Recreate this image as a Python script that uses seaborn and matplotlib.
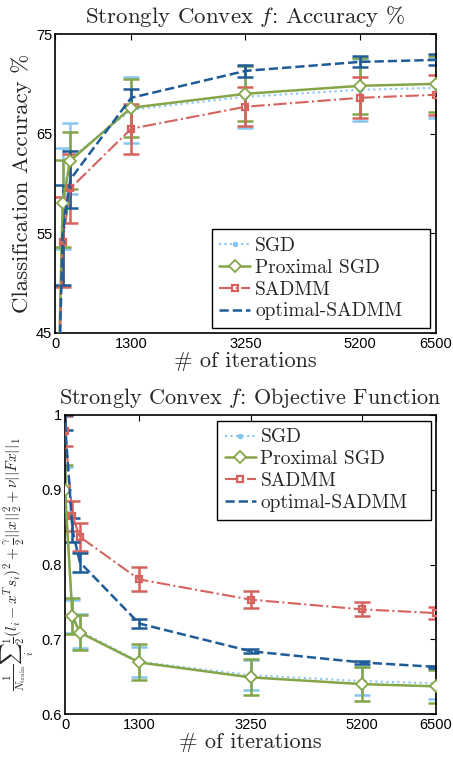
import numpy as np
import pandas as pd
import matplotlib
matplotlib.use("Agg")
import matplotlib.pyplot as plt
import seaborn as sns


# iterations where the models were evaluated
iters = [0, 130, 260, 1300, 3250, 5200, 6500]
x_ticks = [0, 1300, 3250, 5200, 6500]

# classification accuracy (%) with error bar half-widths
sgd_acc = [25.0, 58.5, 62.5, 67.4, 68.7, 69.4, 69.6]
sgd_acc_err = [3.0, 5.1, 3.6, 3.3, 3.1, 3.1, 3.0]
prox_acc = [25.0, 58.0, 62.3, 67.6, 69.0, 69.8, 70.0]
prox_acc_err = [3.0, 4.4, 2.9, 2.9, 2.75, 2.8, 2.8]
sadmm_acc = [25.0, 54.1, 59.5, 65.5, 67.7, 68.6, 68.9]
sadmm_acc_err = [3.0, 4.5, 3.5, 2.5, 1.95, 2.05, 2.0]
opt_acc = [25.0, 54.8, 60.4, 68.6, 71.3, 72.2, 72.4]
opt_acc_err = [3.0, 5.0, 2.9, 0.9, 0.6, 0.55, 0.55]

# objective function value with error bar half-widths
sgd_obj = [0.900, 0.731, 0.711, 0.670, 0.652, 0.644, 0.641]
sgd_obj_err = [0.030, 0.022, 0.023, 0.020, 0.020, 0.019, 0.021]
prox_obj = [0.900, 0.731, 0.709, 0.669, 0.649, 0.640, 0.637]
prox_obj_err = [0.033, 0.024, 0.024, 0.024, 0.024, 0.023, 0.022]
sadmm_obj = [0.979, 0.865, 0.837, 0.780, 0.753, 0.740, 0.735]
sadmm_obj_err = [0.020, 0.020, 0.019, 0.016, 0.011, 0.0095, 0.0075]
opt_obj = [0.990, 0.846, 0.803, 0.721, 0.684, 0.669, 0.663]
opt_obj_err = [0.010, 0.016, 0.013, 0.006, 0.0025, 0.0015, 0.0015]

labels = ["SGD", "Proximal SGD", "SADMM", "optimal-SADMM"]
colors = ["#86C6F2", "#84A548", "#D6625E", "#1F5C97"]
styles = [
    dict(linestyle=":", marker="o", markersize=4, markerfacecolor=colors[0], markeredgewidth=0, linewidth=1.5),
    dict(linestyle="-", marker="D", markersize=5.8, markerfacecolor="white", markeredgewidth=1.3, linewidth=1.8),
    dict(linestyle="-.", marker="s", markersize=4.5, markerfacecolor="none", markeredgewidth=1.6, linewidth=1.5),
    dict(linestyle="--", marker="None", linewidth=1.8),
]

sns.set_style("white")
plt.rcParams["font.family"] = ["Liberation Sans", "DejaVu Sans"]
plt.rcParams["mathtext.fontset"] = "cm"
plt.rcParams["axes.unicode_minus"] = False

SERIF = "cmr10"

fig = plt.figure(figsize=(4.53, 7.64), dpi=100)
ax1 = fig.add_axes([55 / 453, 1 - 333 / 764, 381 / 453, 299 / 764])
ax2 = fig.add_axes([65 / 453, 1 - 714 / 764, 371 / 453, 299 / 764])


def draw(ax, series, errs):
    lines = []
    for vals, err, lab, col, st in zip(series, errs, labels, colors, styles):
        ax.errorbar(iters, vals, yerr=err, fmt="none", ecolor=col, elinewidth=1.8,
                    capsize=5.5, capthick=1.8, zorder=2)
        sns.lineplot(x=iters, y=vals, ax=ax, color=col, legend=False, zorder=3)
        line = ax.get_lines()[-1]
        line.set(**st)
        line.set_color(col)
        line.set_markeredgecolor(col)
        line.set_label(lab)
        lines.append(line)
    ax.set_xlim(0, 6500)
    ax.set_xticks(x_ticks)
    ax.set_xticklabels([str(t) for t in x_ticks])
    ax.tick_params(direction="in", length=4, width=0.8, top=True, right=True,
                   labelsize=10.5, pad=3, colors="black")
    ax.tick_params(axis="y", pad=2)
    for sp in ax.spines.values():
        sp.set_color("black")
        sp.set_linewidth(1.2)
    ax.set_xlabel("# of iterations", fontfamily=SERIF, fontsize=16, labelpad=0)
    return lines


def add_legend(ax, lines, bbox, loc):
    leg = ax.legend(lines, labels, loc=loc, bbox_to_anchor=bbox, mode="expand",
                    borderaxespad=0, prop={"family": SERIF, "size": 14},
                    frameon=True, fancybox=False, handlelength=1.6,
                    handletextpad=0.25, labelspacing=0.2, borderpad=0.4,
                    edgecolor="black", framealpha=1)
    leg.get_frame().set_linewidth(1.0)
    return leg


lines1 = draw(ax1, [sgd_acc, prox_acc, sadmm_acc, opt_acc],
              [sgd_acc_err, prox_acc_err, sadmm_acc_err, opt_acc_err])
ax1.set_ylim(45, 75)
ax1.set_yticks([45, 55, 65, 75])
ax1.set_title("Strongly Convex $f$: Accuracy %", fontfamily=SERIF, fontsize=16.5, pad=8)
ax1.set_ylabel("Classification Accuracy %", fontfamily=SERIF, fontsize=16.5, labelpad=3)
add_legend(ax1, lines1, (0.411, 0.016, 0.573, 0.5), "lower left")

lines2 = draw(ax2, [sgd_obj, prox_obj, sadmm_obj, opt_obj],
              [sgd_obj_err, prox_obj_err, sadmm_obj_err, opt_obj_err])
ax2.set_ylim(0.6, 1.0)
ax2.set_yticks([0.6, 0.7, 0.8, 0.9, 1.0])
ax2.set_yticklabels(["0.6", "0.7", "0.8", "0.9", "1"])
ax2.set_title("Strongly Convex $f$: Objective Function", fontfamily=SERIF, fontsize=16, pad=8)
ax2.set_ylabel(r"$\frac{1}{N_{\rm train}}\sum_i\frac{1}{2}(l_i - x^Ts_i)^2+\frac{\gamma}{2}||x||_2^2+\nu||Fx||_1$",
               fontsize=11, labelpad=4)
add_legend(ax2, lines2, (0.409, 0.5, 0.578, 0.481), "upper left")

fig.savefig("out.png", dpi=100)
